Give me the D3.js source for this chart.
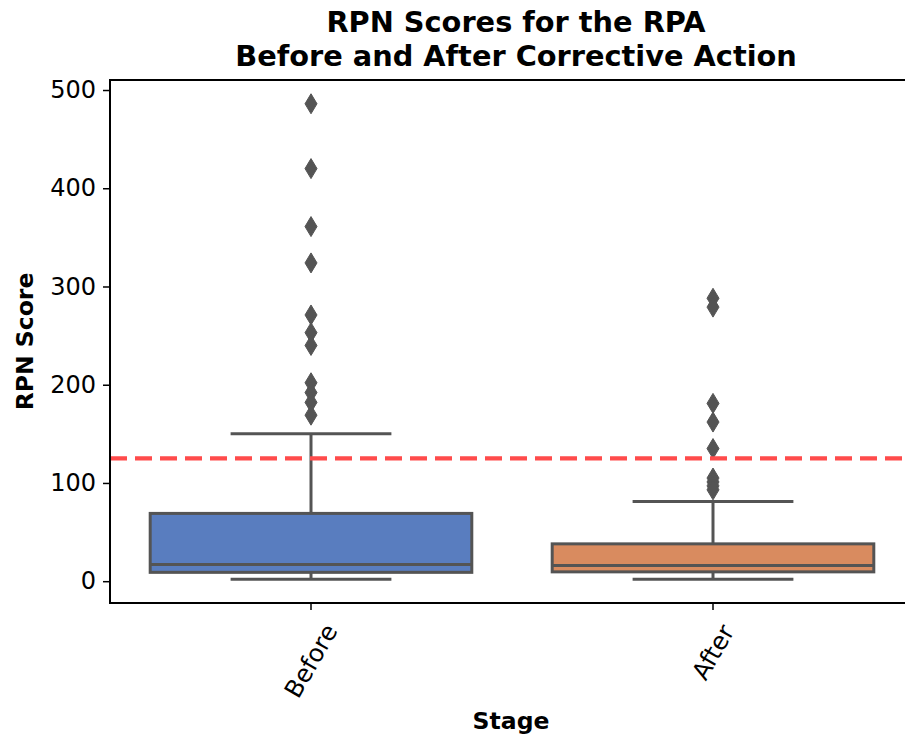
<!DOCTYPE html>
<html>
<head>
<meta charset="utf-8">
<script src="https://cdn.jsdelivr.net/npm/d3@7/dist/d3.min.js"></script>
<style>
  html, body { margin: 0; padding: 0; background: #fff; }
  svg { display: block; font-family: "DejaVu Sans", sans-serif; }
</style>
</head>
<body>
<svg id="chart" width="905" height="736"></svg>
<script>
// Box statistics per stage
const stages = ["Before", "After"];
const whiskerLow = [2, 2];
const q1 = [9, 9.5];
const medians = [17, 16];
const q3 = [69, 38];
const whiskerHigh = [150, 81];
const outliersBefore = [486, 420, 361, 324, 271, 253, 240, 202, 192, 182, 169];
const outliersAfter = [288, 279, 181, 162, 135, 105, 101, 97, 93];
const threshold = 125;
const yTicks = [0, 100, 200, 300, 400, 500];
const fills = ["#597dbf", "#d98b5f"];

const outliers = [outliersBefore, outliersAfter];

const svg = d3.select("#chart");
const margin = { left: 110, right: 914, top: 80, bottom: 603 };
const lineColor = "#545454";

// y domain padded 5% beyond the data extent
const allVals = whiskerLow.concat(whiskerHigh, outliersBefore, outliersAfter);
const lo = d3.min(allVals), hi = d3.max(allVals);
const pad = (hi - lo) * 0.05;

const x = d3.scaleBand().domain(stages).range([margin.left, margin.right]).paddingInner(0).paddingOuter(0);
const y = d3.scaleLinear().domain([lo - pad, hi + pad]).range([margin.bottom, margin.top]);

const plot = svg.append("g");
const boxW = x.bandwidth() * 0.8;

stages.forEach((s, i) => {
  const cx = x(s) + x.bandwidth() / 2;
  const g = plot.append("g");
  // whiskers
  g.append("line").attr("x1", cx).attr("x2", cx).attr("y1", y(q3[i])).attr("y2", y(whiskerHigh[i]))
    .attr("stroke", lineColor).attr("stroke-width", 3);
  g.append("line").attr("x1", cx).attr("x2", cx).attr("y1", y(q1[i])).attr("y2", y(whiskerLow[i]))
    .attr("stroke", lineColor).attr("stroke-width", 3);
  // caps
  [whiskerLow[i], whiskerHigh[i]].forEach(v => {
    g.append("line").attr("x1", cx - boxW / 4).attr("x2", cx + boxW / 4).attr("y1", y(v)).attr("y2", y(v))
      .attr("stroke", lineColor).attr("stroke-width", 3);
  });
  // box
  g.append("rect").attr("x", cx - boxW / 2).attr("width", boxW)
    .attr("y", y(q3[i])).attr("height", y(q1[i]) - y(q3[i]))
    .attr("fill", fills[i]).attr("stroke", lineColor).attr("stroke-width", 3);
  // median
  g.append("line").attr("x1", cx - boxW / 2).attr("x2", cx + boxW / 2).attr("y1", y(medians[i])).attr("y2", y(medians[i]))
    .attr("stroke", lineColor).attr("stroke-width", 3);
  // fliers as thin diamonds
  g.selectAll("path.flier").data(outliers[i]).enter().append("path")
    .attr("class", "flier")
    .attr("d", d => {
      const yy = y(d), hh = 10, ww = 6;
      return `M${cx},${yy - hh}L${cx + ww},${yy}L${cx},${yy + hh}L${cx - ww},${yy}Z`;
    })
    .attr("fill", lineColor).attr("stroke", lineColor).attr("stroke-width", 1);
});

// threshold line
svg.append("line").attr("x1", margin.left).attr("x2", margin.right)
  .attr("y1", y(threshold)).attr("y2", y(threshold))
  .attr("stroke", "#ff4b4b").attr("stroke-width", 4.2).attr("stroke-dasharray", "17,8");

// axes
const yAxis = svg.append("g").attr("transform", `translate(${margin.left},0)`)
  .call(d3.axisLeft(y).tickValues(yTicks).tickSize(7).tickPadding(7));
const xAxis = svg.append("g").attr("transform", `translate(0,${margin.bottom})`)
  .call(d3.axisBottom(x).tickSize(7).tickFormat(""));
[yAxis, xAxis].forEach(a => {
  a.select(".domain").remove();
  a.selectAll(".tick line").attr("stroke", "#000").attr("stroke-width", 1.5);
});
yAxis.selectAll(".tick text").attr("font-size", 24).attr("fill", "#000")
  .attr("font-family", "DejaVu Sans");

// frame
svg.append("rect").attr("x", margin.left).attr("y", margin.top)
  .attr("width", margin.right - margin.left).attr("height", margin.bottom - margin.top)
  .attr("fill", "none").attr("stroke", "#000").attr("stroke-width", 2);

// rotated category labels, bounding box centred under each tick
stages.forEach(s => {
  const cx = x(s) + x.bandwidth() / 2;
  const t = svg.append("text").text(s).attr("font-size", 24.5).attr("fill", "#000")
    .attr("text-anchor", "middle").attr("dominant-baseline", "central")
    .attr("transform", "rotate(-60)");
  const r = t.node().getBoundingClientRect();
  t.attr("transform", `translate(${cx},${margin.bottom + 7 + 9 + r.height / 2}) rotate(-60)`);
});

// axis titles
svg.append("text").text("Stage").attr("x", 511).attr("y", 729)
  .attr("text-anchor", "middle").attr("font-size", 23.5).attr("font-weight", "bold");
svg.append("text").text("RPN Score")
  .attr("transform", `translate(33,${(margin.top + margin.bottom) / 2}) rotate(-90)`)
  .attr("text-anchor", "middle").attr("font-size", 23.5).attr("font-weight", "bold");

// title
const title = svg.append("text").attr("text-anchor", "middle").attr("font-size", 28.8).attr("font-weight", "bold");
title.append("tspan").attr("x", 516).attr("y", 32).text("RPN Scores for the RPA");
title.append("tspan").attr("x", 516).attr("y", 66).text("Before and After Corrective Action");
</script>
</body>
</html>
